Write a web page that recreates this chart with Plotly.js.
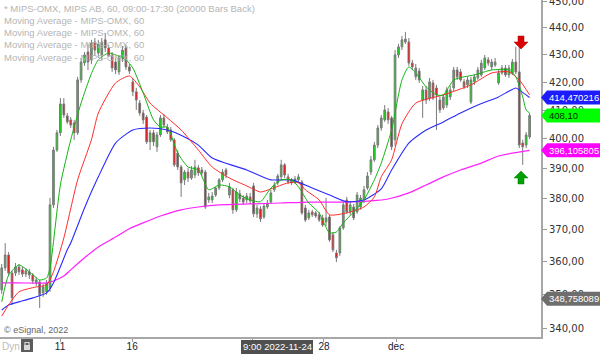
<!DOCTYPE html>
<html><head><meta charset="utf-8">
<script src="https://cdn.plot.ly/plotly-3.0.1.min.js"></script>
<style>html,body{margin:0;padding:0;background:#fff;overflow:hidden}#chart{width:600px;height:354px}</style>
</head><body><div id="chart"></div>
<script>
// ---------- DATA ----------
const openP = [351.4,358.1,362.1,356.5,356.5,358.4,357.5,356.2,356.9,355.9,
353.5,353.8,350.5,350.8,352.0,378.0,396.2,402.1,412.2,408.0,
406.6,405.5,402.1,420.8,427.0,431.0,428.1,434.7,430.6,429.9,
435.5,432.5,429.9,427.3,423.7,428.8,432.5,425.5,420.1,416.5,
412.5,409.0,407.6,399.0,402.1,397.3,401.4,407.3,404.1,403.1,
399.7,395.2,390.5,386.2,388.8,386.8,387.8,390.2,389.5,388.8,
379.6,379.6,381.2,383.5,386.2,389.5,381.2,382.9,376.4,381.6,
380.2,379.6,380.6,384.2,375.1,376.7,374.1,377.3,378.9,382.9,
385.2,387.2,391.2,387.2,386.2,385.5,386.2,385.5,377.0,373.8,
375.7,375.4,374.8,373.8,372.5,374.1,368.4,362.7,362.7,370.6,
379.6,375.7,377.3,375.7,377.3,379.6,383.5,388.8,392.9,397.9,
403.8,406.6,409.4,407.3,399.7,429.9,432.9,434.7,434.7,426.9,
421.9,424.0,413.6,417.2,414.3,419.7,417.9,413.6,410.8,411.8,
414.7,417.9,424.4,423.7,420.1,419.0,412.9,420.1,421.5,422.6,
425.1,428.1,425.5,426.2,419.7,423.3,425.1,422.6,423.3,427.3,
423.7,398.6,397.9,400.7];
const highP = [359.3,365.8,363.0,357.2,359.6,359.3,358.4,358.1,357.8,356.5,
355.3,354.4,353.2,354.4,380.3,397.3,403.1,414.3,414.3,409.0,
407.6,406.6,421.9,428.8,431.0,434.0,435.5,436.2,435.5,436.2,
438.1,433.6,431.0,428.8,429.9,433.2,433.6,426.6,421.5,417.9,
413.6,410.1,408.3,403.1,403.1,402.4,408.3,408.7,405.2,404.1,
400.3,396.2,391.2,389.5,390.2,390.8,392.9,391.2,390.5,389.5,
381.9,382.2,383.9,386.8,389.8,390.2,385.2,383.5,383.5,382.9,
381.2,381.9,381.9,385.2,378.0,377.6,378.6,379.6,382.9,385.5,
388.2,392.9,391.8,388.2,386.8,387.5,388.2,386.2,378.0,376.4,
376.4,376.0,375.7,374.8,380.3,374.8,369.3,363.7,371.2,379.0,
380.6,379.0,378.3,382.2,381.2,384.2,388.8,394.2,399.0,404.8,
408.3,411.8,410.8,408.0,431.7,434.0,437.0,438.5,436.2,428.1,
426.6,425.1,418.6,418.6,421.5,420.8,419.0,414.7,415.7,418.2,
418.6,425.5,425.5,424.8,421.1,421.9,421.9,422.9,425.5,428.1,
429.9,429.1,428.4,428.8,424.4,426.2,426.2,426.2,428.4,432.9,
432.9,399.7,402.4,409.0];
const lowP = [350.2,357.2,355.6,346.9,355.6,355.9,355.3,355.3,354.7,353.2,
352.6,346.0,349.3,349.9,350.8,377.0,395.6,401.0,407.3,405.2,
403.8,399.7,401.4,419.7,425.9,424.4,426.6,429.5,428.8,428.1,
431.0,429.1,423.7,422.9,422.6,427.3,424.4,422.9,415.0,410.1,
408.0,405.2,398.3,396.2,397.6,395.6,400.7,403.8,401.7,399.0,
390.5,389.5,380.6,384.5,385.5,386.2,386.8,387.5,387.5,376.7,
378.6,378.6,380.6,382.9,385.5,386.8,380.2,375.1,375.7,378.9,
378.0,378.6,378.3,374.1,373.8,372.5,373.5,376.7,378.3,382.2,
384.5,386.5,386.8,384.8,384.5,384.8,385.5,374.8,372.5,373.1,
374.1,373.8,372.5,370.9,371.2,366.2,363.0,359.9,361.8,370.0,
375.1,374.8,373.1,375.1,376.4,378.6,382.9,387.8,392.2,396.9,
402.8,405.9,405.2,396.2,397.6,428.8,431.7,434.0,425.9,424.4,
420.8,419.7,407.3,412.2,413.3,413.6,403.1,409.0,410.1,410.8,
413.6,416.8,420.8,420.1,417.5,417.9,412.2,419.0,420.8,421.9,
424.4,425.9,424.4,425.5,419.0,422.6,421.9,421.5,422.6,422.9,
396.9,391.2,396.9,400.0];
const closeP = [358.1,362.1,356.5,349.0,358.4,356.9,356.2,357.2,355.9,354.1,
354.4,349.9,352.3,353.5,378.0,396.2,402.1,412.2,408.3,405.9,
404.8,402.1,420.8,427.3,429.9,427.3,434.3,431.7,434.0,434.7,
432.5,429.5,425.1,424.4,428.8,431.7,425.5,424.0,416.5,413.6,
409.0,406.6,399.0,402.1,399.0,401.4,407.3,404.8,402.4,399.7,
391.2,390.5,385.2,388.8,386.8,389.5,390.5,388.5,388.5,377.3,
380.6,380.9,383.5,386.2,388.8,387.8,383.9,376.4,382.2,379.9,
378.9,380.9,379.3,375.1,377.0,373.5,377.6,378.6,381.9,384.5,
387.5,391.2,387.8,385.5,385.2,386.5,387.2,375.4,373.1,375.4,
374.8,374.4,373.1,371.5,373.8,366.8,363.7,361.2,370.6,378.0,
375.7,378.0,373.8,381.2,380.2,382.9,387.5,392.9,397.9,403.8,
407.3,410.1,406.6,397.3,429.9,432.9,435.5,435.8,426.9,425.5,
425.1,420.8,417.2,413.6,420.1,414.3,415.4,410.1,414.7,417.2,
417.2,424.4,421.9,420.8,418.3,420.8,420.8,421.9,424.4,426.9,
428.8,426.9,427.3,427.3,423.3,425.1,422.6,425.1,427.3,423.7,
397.9,397.3,401.4,408.1];
const barIndex = openP.map((_, i) => i);

const maGreenX = [0,2,5,8,11,13,14,17,20,23,26,28,31,36,38,41,44,46,48,51,54,57,60,63,66,69,72,75,78,81,84,86,89,92,95,97,99,102,105,108,110,113,116,118,120,123,126,128,131,134,137,142,147,149,151,152,153];
const maGreenY = [347.8,355.9,359.0,356.9,354.4,355.0,358.1,384.5,399.7,412.5,423.1,428.1,430.6,428.1,425.1,416.1,406.6,404.1,404.1,395.2,390.5,389.5,382.9,384.5,383.9,381.2,379.6,379.0,383.5,386.2,386.2,383.9,378.6,375.4,369.0,369.3,372.2,375.7,379.6,386.2,391.8,403.1,420.8,425.5,423.3,418.3,415.4,415.4,420.8,421.9,422.6,424.4,424.4,421.9,414.7,410.1,409.0];
const maRedX = [0,2,5,10,13,15,18,22,26,28,33,37,40,43,48,52,57,61,66,71,75,78,83,86,88,92,95,100,105,108,110,113,116,120,128,136,142,147,150,153];
const maRedY = [343.6,346.9,350.8,352.3,352.9,356.9,367.4,386.2,399.7,409.0,419.7,422.2,418.3,412.5,407.3,403.1,396.2,390.5,386.8,384.2,382.2,383.2,385.2,385.2,382.9,379.6,374.8,375.4,377.3,380.6,387.2,392.9,405.2,412.5,415.4,419.0,423.3,423.7,420.8,415.4];
const maBlueX = [0,2,5,9,13,15,19,20,24,28,33,38,43,48,53,57,61,71,78,84,90,95,100,105,110,113,118,123,128,133,138,144,149,150,153];
const maBlueY = [345.4,346.9,347.8,349.0,350.5,353.5,363.7,365.8,377.0,387.2,398.6,403.1,403.8,403.1,400.7,397.9,393.5,389.5,386.2,386.2,383.5,381.2,379.0,379.6,383.2,389.5,398.6,403.1,405.9,409.0,411.8,414.7,417.9,417.2,414.47];
const maMagX = [0,5,13,15,18,20,24,28,33,37,41,46,52,57,63,72,81,89,98,107,112,118,123,128,133,139,144,153];
const maMagY = [353.5,353.5,353.5,354.1,355.6,357.5,361.2,364.6,367.7,370.3,372.2,374.4,376.4,377.3,378.0,378.3,378.6,378.9,378.9,379.3,379.9,381.9,384.5,387.2,389.5,391.8,394.2,396.1];

const yTickVals = [340,350,360,370,380,390,400,410,420,430,440,450];
const yTickText = ['340,00','350,00','360,00','370,00','380,00','390,00','400,00','410,00','420,00','430,00','440,00','450,00'];
const xTickVals = [16.9,37.8,72.6,93.4,114.3];
const xTickText = ['11','16','','28','dec'];
const tagValues = [414.470216, 408.10, 396.105805, 348.758089];
const tagLabels = ['414,470216','408,10','396,105805','348,758089'];
const tagBg = ['#1c1cff','#00ff00','#ff00ff','#6e6e6e'];
const tagFg = ['#ffffff','#002a00','#ffffff','#ffffff'];
const bandLow = 436.2, bandHigh = 438.4;
const crossLabel = '9:00 2022-11-24';
const titleLines = ['* MIPS-OMX, MIPS AB, 60, 09:00-17:30 (20000 Bars Back)','Moving Average - MIPS-OMX, 60','Moving Average - MIPS-OMX, 60','Moving Average - MIPS-OMX, 60','Moving Average - MIPS-OMX, 60'];

// ---------- LAYOUT HELPERS ----------
const PR = 541, PB = 337;
const X = v => v / PR;
const Y = v => 1 - v / PB;
const yRange = [2.52824, 2.65385];
const YV = val => (Math.log10(val) - yRange[0]) / (yRange[1] - yRange[0]);

const traces = [{
  type: 'candlestick', x: barIndex, open: openP, high: highP, low: lowP, close: closeP,
  increasing: {line: {color: '#7a7a7a', width: 1}, fillcolor: '#00e600'},
  decreasing: {line: {color: '#7a7a7a', width: 1}, fillcolor: '#ff0000'},
  whiskerwidth: 0, hoverinfo: 'skip'
},
{type:'scatter', mode:'lines', x: maMagX, y: maMagY, line:{color:'#ff22ff', width:1.2, shape:'spline', smoothing:0.6}, hoverinfo:'skip'},
{type:'scatter', mode:'lines', x: maBlueX, y: maBlueY, line:{color:'#2a2aff', width:1.1, shape:'spline', smoothing:0.6}, hoverinfo:'skip'},
{type:'scatter', mode:'lines', x: maRedX, y: maRedY, line:{color:'#ff2a2a', width:1, shape:'spline', smoothing:0.6}, hoverinfo:'skip'},
{type:'scatter', mode:'lines', x: maGreenX, y: maGreenY, line:{color:'#14b414', width:1, shape:'spline', smoothing:0.6}, hoverinfo:'skip'}
];

const shapes = [];
const annotations = [];
// resistance band
shapes.push({type:'rect', xref:'paper', yref:'y', x0:X(79), x1:1, y0:Math.log10(bandLow), y1:Math.log10(bandHigh),
  fillcolor:'rgba(240,110,110,0.55)', line:{color:'#e04040', width:1}, layer:'below'});
// price tags
tagValues.forEach((v, k) => {
  const yc = YV(v), h = 7 / PB;
  shapes.push({type:'path', xref:'paper', yref:'paper',
    path:`M ${X(541)} ${yc} L ${X(547)} ${yc+h} L ${X(600)} ${yc+h} L ${X(600)} ${yc-h} L ${X(547)} ${yc-h} Z`,
    fillcolor: tagBg[k], line:{width:0}, layer:'above'});
  annotations.push({xref:'paper', yref:'paper', x:X(546.5), y:yc, xanchor:'left', yanchor:'middle', showarrow:false,
    text: tagLabels[k], font:{family:'Arial, Liberation Sans', size:9.5, color: tagFg[k]}});
});
// arrows
const ax = 521;
shapes.push({type:'path', xref:'paper', yref:'paper', fillcolor:'#dd0000', line:{color:'#aa0000', width:0.5},
  path:`M ${X(ax-3)} ${Y(36)} L ${X(ax+3)} ${Y(36)} L ${X(ax+3)} ${Y(42)} L ${X(ax+7)} ${Y(42)} L ${X(ax)} ${Y(49)} L ${X(ax-7)} ${Y(42)} L ${X(ax-3)} ${Y(42)} Z`});
shapes.push({type:'path', xref:'paper', yref:'paper', fillcolor:'#00a000', line:{color:'#007a00', width:0.5},
  path:`M ${X(ax-3)} ${Y(184)} L ${X(ax+3)} ${Y(184)} L ${X(ax+3)} ${Y(178)} L ${X(ax+7)} ${Y(178)} L ${X(ax)} ${Y(171)} L ${X(ax-7)} ${Y(178)} L ${X(ax-3)} ${Y(178)} Z`});
// crosshair x label box
shapes.push({type:'rect', xref:'paper', yref:'paper', x0:X(241), x1:X(313), y0:Y(354), y1:Y(340), fillcolor:'#505050', line:{width:0}});
annotations.push({xref:'paper', yref:'paper', x:X(277), y:Y(347), xanchor:'center', yanchor:'middle', showarrow:false,
  text: crossLabel, font:{family:'Arial, Liberation Sans', size:9.5, color:'#ffffff'}});
// lock icon
shapes.push({type:'rect', xref:'paper', yref:'paper', x0:X(21), x1:X(33), y0:Y(352), y1:Y(339), fillcolor:'#5c5c5c', line:{width:0}});
shapes.push({type:'rect', xref:'paper', yref:'paper', x0:X(24), x1:X(30), y0:Y(350), y1:Y(345), fillcolor:'#d8d8d8', line:{width:0}});
shapes.push({type:'path', xref:'paper', yref:'paper', line:{color:'#d8d8d8', width:1.2},
  path:`M ${X(25)} ${Y(345)} L ${X(25)} ${Y(342.5)} L ${X(29)} ${Y(342.5)} L ${X(29)} ${Y(345)}`});
annotations.push({xref:'paper', yref:'paper', x:X(0), y:Y(346.5), xanchor:'left', yanchor:'middle', showarrow:false,
  text:'Dyn', font:{family:'Arial, Liberation Sans', size:10, color:'#bdbdbd'}});
annotations.push({xref:'paper', yref:'paper', x:X(2), y:Y(330), xanchor:'left', yanchor:'middle', showarrow:false,
  text:'© eSignal, 2022', font:{family:'Arial, Liberation Sans', size:9, color:'#666666'}});
// title / legend lines
titleLines.forEach((t, k) => {
  annotations.push({xref:'paper', yref:'paper', x:X(2), y:Y(8.3 + k * 12.2), xanchor:'left', yanchor:'middle', showarrow:false,
    text: t, font:{family:'Arial, Liberation Sans', size:9.5, color:'#b5b5b5'}});
});

const layout = {
  width: 600, height: 354,
  margin: {l: 0, r: 600 - PR, t: 0, b: 354 - PB, pad: 0},
  paper_bgcolor: '#ffffff', plot_bgcolor: '#ffffff',
  showlegend: false,
  xaxis: {range: [-0.5, 156.3], tickvals: xTickVals, ticktext: xTickText, ticks: 'outside', ticklen: 3,
    tickcolor: '#9a9a9a', showline: true, linecolor: '#a8a8a8', linewidth: 2, showgrid: false, zeroline: false,
    rangeslider: {visible: false}, ticklabelstandoff: -4, ticklabeloverflow: 'allow',
    tickfont: {family: 'Arial, Liberation Sans', size: 10, color: '#222233'}, fixedrange: true},
  yaxis: {type: 'log', side: 'right', range: yRange, tickvals: yTickVals, ticktext: yTickText, ticks: 'outside', ticklen: 4,
    tickcolor: '#9a9a9a', showline: true, linecolor: '#a8a8a8', linewidth: 2, showgrid: false, zeroline: false,
    ticklabeloverflow: 'allow',
    tickfont: {family: 'DejaVu Sans', size: 10, color: '#333333'}, fixedrange: true},
  shapes: shapes, annotations: annotations
};
Plotly.newPlot('chart', traces, layout, {staticPlot: true, displayModeBar: false});
</script>
</body></html>
